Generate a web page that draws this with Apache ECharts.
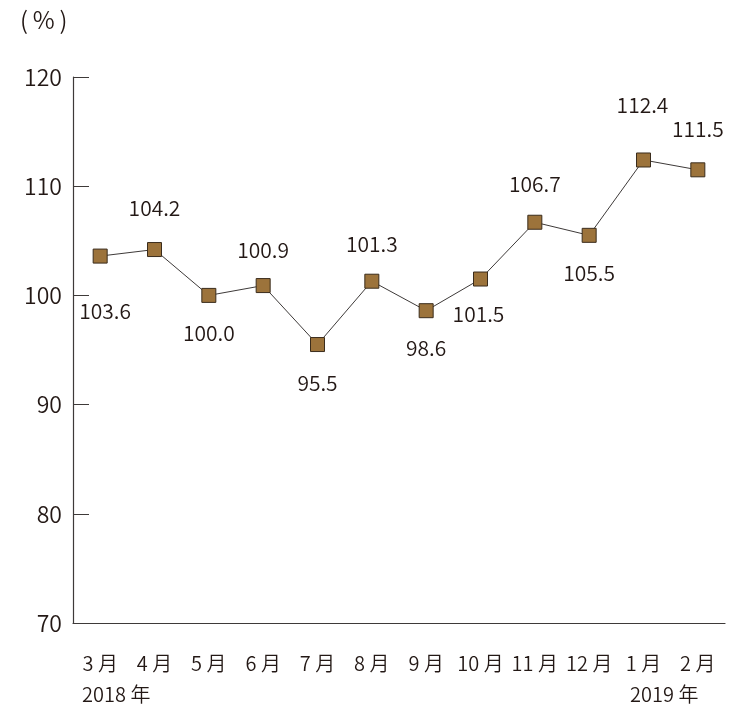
<!DOCTYPE html>
<html>
<head>
<meta charset="utf-8">
<script src="https://cdn.jsdelivr.net/npm/echarts@6/dist/echarts.min.js"></script>
<style>
  html, body { margin: 0; padding: 0; background: #fff; }
  #chart { width: 731px; height: 710px; }
</style>
</head>
<body>
<div id="chart"></div>
<script>
// Monthly index (%), March 2018 – February 2019
const months = ['3 月', '4 月', '5 月', '6 月', '7 月', '8 月', '9 月', '10 月', '11 月', '12 月', '1 月', '2 月'];
const values = [103.6, 104.2, 100.0, 100.9, 95.5, 101.3, 98.6, 101.5, 106.7, 105.5, 112.4, 111.5];
const yTicks = [70, 80, 90, 100, 110, 120];

// Value label offsets (dx, dy) from each marker, in pixels
const labelOffsets = [
  [5, 55], [0, -42], [0, 38], [0, -36], [0, 38], [0, -37],
  [0, 37], [-2, 35], [0, -38], [0, 38], [-1, -55], [0, -41]
];

const textColor = '#231815';
const fontFamily = '"Noto Sans CJK JP", "Noto Sans", sans-serif';
const weight = 350;

const chart = echarts.init(document.getElementById('chart'), null, { renderer: 'canvas' });

chart.setOption({
  animation: false,
  backgroundColor: '#fff',
  textStyle: { fontFamily: fontFamily, color: textColor },
  grid: { left: 73, right: 6, top: 77, bottom: 87, containLabel: false },
  xAxis: {
    type: 'category',
    data: months,
    boundaryGap: true,
    axisLine: { lineStyle: { color: '#3e3a39', width: 1.2 } },
    axisTick: { inside: true, length: 13, lineStyle: { color: '#3e3a39', width: 1 } },
    axisLabel: { color: textColor, fontSize: 20, fontWeight: weight, margin: 30, fontFamily: fontFamily, interval: 0 }
  },
  yAxis: {
    type: 'value',
    min: yTicks[0],
    max: yTicks[yTicks.length - 1],
    interval: 10,
    splitLine: { show: false },
    axisLine: { show: true, lineStyle: { color: '#3e3a39', width: 1.2 } },
    axisTick: { show: true, inside: true, length: 16, lineStyle: { color: '#3e3a39', width: 1 } },
    axisLabel: { color: textColor, fontSize: 23, fontWeight: weight, margin: 11, fontFamily: fontFamily }
  },
  series: [{
    type: 'line',
    data: values.map((v, i) => ({
      value: v,
      label: { offset: labelOffsets[i] }
    })),
    symbol: 'rect',
    symbolSize: 14,
    lineStyle: { color: '#3e3a39', width: 1 },
    itemStyle: { color: '#9c733b', borderColor: '#3a2c1c', borderWidth: 1 },
    label: {
      show: true,
      position: 'inside',
      formatter: p => p.value.toFixed(1),
      color: textColor,
      fontSize: 21,
      fontWeight: weight,
      fontFamily: fontFamily
    }
  }],
  graphic: [
    { type: 'text', left: 20, top: 8, style: { text: '(\u2009%\u2009)', fill: textColor, font: weight + ' 24px ' + fontFamily } },
    { type: 'text', left: 82, top: 684, style: { text: '2018 年', fill: textColor, font: weight + ' 20px ' + fontFamily } },
    { type: 'text', left: 630, top: 684, style: { text: '2019 年', fill: textColor, font: weight + ' 20px ' + fontFamily } }
  ]
});
</script>
</body>
</html>
